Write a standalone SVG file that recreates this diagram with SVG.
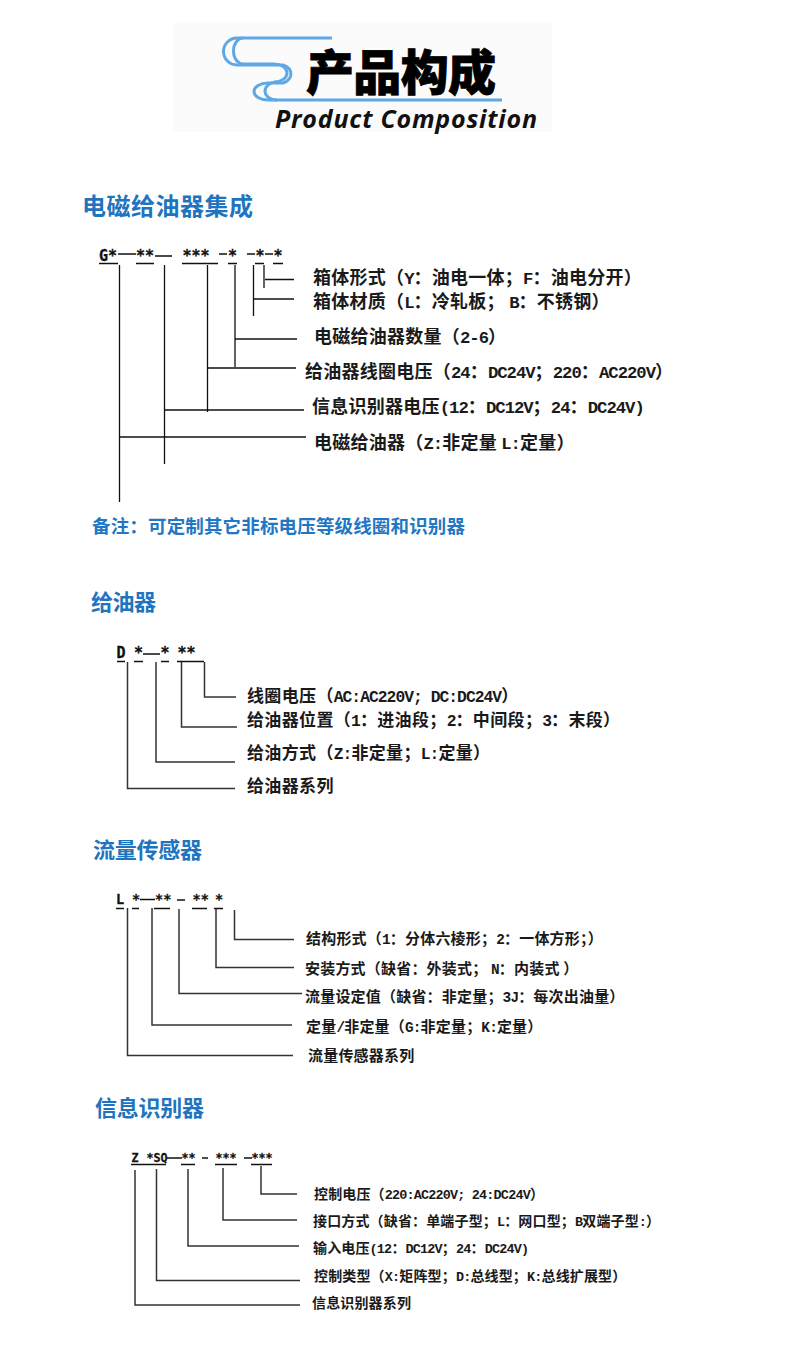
<svg xmlns="http://www.w3.org/2000/svg" width="800" height="1350" viewBox="0 0 800 1350">
<style>
text{font-family:"Noto Sans CJK SC","Liberation Sans",sans-serif;font-weight:700;fill:#1a1a1a}
.h{fill:#1f74c0;font-size:24px}
.h2{fill:#1f74c0;font-size:22px}
.n{fill:#2277c4;font-size:18.5px}
.c{font-family:"DejaVu Sans Mono","Liberation Mono",monospace;font-weight:700;fill:#111;stroke:#111;stroke-width:.3}
.c1{font-size:15px}.c3{font-size:13.500px}.c4{font-size:11.700px}
.a{font-size:18px;letter-spacing:.25px}.b{font-size:17px;letter-spacing:.35px}.d{font-size:15px;letter-spacing:.2px}.e{font-size:14px;letter-spacing:.15px}
tspan{font-family:"Liberation Mono",monospace;font-size:.96em;letter-spacing:-.06em}
.l{fill:none;stroke:#111;stroke-width:1.3}
.g{fill:none;stroke:#333;stroke-width:1.5}
.w{fill:none;stroke:#5fa8e6;stroke-width:3}
</style>
<g id="title">
<rect x="173" y="23" width="379" height="109" fill="#fbfbfb"/>
<path class="w" d="M332 38H237A13.500 13.500 0 0 0 237 65H283A14 10 0 0 1 283 83H268A14 8.500 0 0 0 268 100H502"/>
<path class="w" d="M243 38A9.500 13 0 0 0 243 64H274A13 9 0 0 1 274 82H277A12 9 0 0 0 277 100"/>
<text x="306" y="90" style="font-size:48px;font-weight:900;fill:#000;stroke:#000;stroke-width:.8" textLength="190">产品构成</text>
<text x="275" y="128" style="font-family:'Open Sans','Noto Sans',sans-serif;font-size:25px;font-weight:700;font-style:italic;fill:#111" textLength="262">Product Composition</text>
</g>
<g id="section-1">
<text class="h" x="82" y="215" textLength="171">电磁给油器集成</text>
<text class="c c1" x="99" y="261">G*</text><text class="c c1" x="136" y="261">**</text><text class="c c1" x="182.500" y="261">***</text><text class="c c1" x="228" y="261">*</text><text class="c c1" x="255.500" y="261">*</text><text class="c c1" x="273.500" y="261">*</text>
<path class="l" d="M118 254H136M155 256H172M219 254H227M247 254H255M265 254H273M99 263.500H118M136 263.500H154M182 263.500H218M228 263.500H237M255 263.500H264M273 263.500H283"/>
<text class="a" x="313" y="284">箱体形式（<tspan>Y</tspan>：油电一体；<tspan>F</tspan>：油电分开）</text>
<text class="a" x="313" y="308">箱体材质（<tspan>L</tspan>：冷轧板； <tspan>B</tspan>：不锈钢）</text>
<text class="a" x="314" y="343">电磁给油器数量（<tspan>2-6</tspan>）</text>
<text class="a" x="305" y="378">给油器线圈电压（<tspan>24</tspan>：<tspan>DC24V</tspan>；<tspan>220</tspan>：<tspan>AC220V</tspan>）</text>
<text class="a" x="312" y="413">信息识别器电压<tspan>(12</tspan>：<tspan>DC12V</tspan>；<tspan>24</tspan>：<tspan>DC24V)</tspan></text>
<text class="a" x="314" y="449">电磁给油器（<tspan>Z:</tspan>非定量 <tspan>L:</tspan>定量）</text>
<text class="n" x="92" y="533" textLength="373">备注：可定制其它非标电压等级线圈和识别器</text>
</g>
<g id="section-2">
<text class="h2" x="91" y="610" textLength="65">给油器</text>
<text class="c c1" x="116.500" y="658">D</text><text class="c c1" x="134" y="658">*</text><text class="c c1" x="160.500" y="658">*</text><text class="c c1" x="177.500" y="658">**</text>
<path class="l" d="M143 654H160M117 661.500H125M134 661.500H143M161 661.500H169M177 661.500H204"/>
<text class="b" x="247" y="702">线圈电压（<tspan>AC:AC220V; DC:DC24V</tspan>）</text>
<text class="b" x="247" y="726">给油器位置（<tspan>1</tspan>：进油段；<tspan>2</tspan>：中间段；<tspan>3</tspan>：末段）</text>
<text class="b" x="247" y="759">给油方式（<tspan>Z:</tspan>非定量；<tspan>L:</tspan>定量）</text>
<text class="b" x="247" y="792">给油器系列</text>
</g>
<g id="section-3">
<text class="h2" x="93" y="858" textLength="109">流量传感器</text>
<text class="c c3" x="116" y="904">L</text><text class="c c3" x="132" y="904">*</text><text class="c c3" x="155" y="904">**</text><text class="c c3" x="192.500" y="904">**</text><text class="c c3" x="215" y="904">*</text>
<path class="l" d="M140 899.500H155M177 900H185M116 908.500H124M132 908.500H139M154 908.500H170M192 908.500H207M214 908.500H223"/>
<text class="d" x="306" y="944">结构形式（<tspan>1</tspan>：分体六棱形；<tspan>2</tspan>：一体方形；）</text>
<text class="d" x="305" y="974">安装方式（缺省：外装式； <tspan>N</tspan>：内装式 ）</text>
<text class="d" x="305" y="1002">流量设定值（缺省：非定量；<tspan>3J</tspan>：每次出油量）</text>
<text class="d" x="306" y="1032">定量<tspan>/</tspan>非定量（<tspan>G:</tspan>非定量；<tspan>K:</tspan>定量）</text>
<text class="d" x="308" y="1061">流量传感器系列</text>
</g>
<g id="section-4">
<text class="h2" x="95" y="1116" textLength="109">信息识别器</text>
<text class="c c4" x="131.500" y="1162">Z</text><text class="c c4" x="146.500" y="1162">*SQ</text><text class="c c4" x="181.500" y="1162">**</text><text class="c c4" x="215.500" y="1162">***</text><text class="c c4" x="251.500" y="1162">***</text>
<path class="l" d="M167 1158H182M202 1158H208M244 1158H252M131 1164.500H166M181 1164.500H195M215 1164.500H237M251 1164.500H272"/>
<text class="e" x="314" y="1199">控制电压（<tspan>220:AC220V; 24:DC24V</tspan>）</text>
<text class="e" x="313" y="1226">接口方式（缺省：单端子型；<tspan>L</tspan>：网口型；<tspan>B</tspan>双端子型<tspan>:</tspan>）</text>
<text class="e" x="313" y="1253">输入电压<tspan>(12</tspan>：<tspan>DC12V</tspan>；<tspan>24</tspan>：<tspan>DC24V)</tspan></text>
<text class="e" x="314" y="1281">控制类型（<tspan>X:</tspan>矩阵型；<tspan>D:</tspan>总线型；<tspan>K:</tspan>总线扩展型）</text>
<text class="e" x="312" y="1308">信息识别器系列</text>
</g>
<g id="connectors">
<path class="l" d="M264 265V288M265 279.500H294"/>
<path class="l" d="M253.500 265V316M254 299H294"/>
<path class="l" d="M235 265V367M235 339H297"/>
<path class="l" d="M207.500 265V412M208 368H296"/>
<path class="l" d="M164.500 265V464M165 410H304"/>
<path class="l" d="M119.500 265V502M120 437H306"/>
<path class="g" d="M204.500 662V697H236"/>
<path class="g" d="M181.500 662V727H237"/>
<path class="g" d="M156 662V762H235"/>
<path class="g" d="M127.500 662V788.500H235"/>
<path class="g" d="M234.500 910V939.500H294"/>
<path class="g" d="M216 909V967.500H294"/>
<path class="g" d="M179 909V993.500H302"/>
<path class="g" d="M152 908V1025H292"/>
<path class="g" d="M127.500 908V1055.500H293"/>
<path class="g" d="M261 1166V1194H297"/>
<path class="g" d="M223 1168V1220H297"/>
<path class="g" d="M188 1169V1246H299"/>
<path class="g" d="M156.500 1169V1280.500H300"/>
<path class="g" d="M135 1170V1305H300"/>
</g>
</svg>
